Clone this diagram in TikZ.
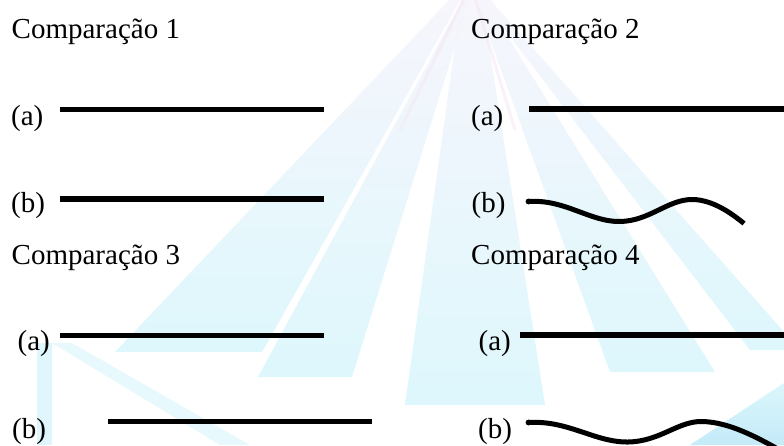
\documentclass[tikz,border=0pt]{standalone}
\usepackage{fontspec}
\setmainfont{Liberation Serif}
\definecolor{wmcyan}{RGB}{216,246,252}
\definecolor{wmblue}{RGB}{190,233,248}
\definecolor{wmlav}{RGB}{246,245,252}
\definecolor{wmpink}{RGB}{246,230,242}
\tikzset{
  lbl/.style={anchor=base west,inner sep=0pt,font=\fontsize{29}{34}\selectfont},
  bar/.style={line width=5.5pt,line cap=butt},
  wave/.style={line width=5pt,line cap=butt},
  beam/.style={top color=wmlav,bottom color=wmcyan,draw=none,opacity=0.85},
}
\begin{document}
\begin{tikzpicture}[x=1pt,y=-1pt]
\useasboundingbox (0,0) rectangle (784,445);
\clip (0,0) rectangle (784,445);
\fill[white] (0,0) rectangle (784,445);
% watermark
\shade[beam] (454,-5) -- (463,-5) -- (262,352) -- (115,352) -- cycle;
\shade[beam] (465,-5) -- (471,-5) -- (352,377) -- (258,377) -- cycle;
\shade[beam] (462,-5) -- (481,-5) -- (545,405) -- (405,405) -- cycle;
\shade[beam] (474,-5) -- (482,-5) -- (715,372) -- (610,372) -- cycle;
\shade[beam] (478,-5) -- (486,-5) -- (800,350) -- (750,350) -- cycle;
\draw[wmpink,line width=3pt,opacity=0.5] (466,-5) -- (400,130);
\draw[wmpink,line width=3pt,opacity=0.5] (474,-5) -- (515,130);
\fill[wmcyan,opacity=0.8] (37,343) rectangle (52,445);
\fill[wmcyan,opacity=0.6] (52,343) -- (72,343) -- (250,445) -- (220,445) -- cycle;
\shade[top color=wmcyan,bottom color=wmblue,opacity=0.9] (690,445) -- (784,383) -- (784,445) -- cycle;
% titles
\node[lbl] (t1) at (11.5,38) {Comparação 1};
\node[lbl] (t2) at (471,38) {Comparação 2};
\node[lbl] (t3) at (11.5,264) {Comparação 3};
\node[lbl] (t4) at (471,264) {Comparação 4};
% labels
\node[lbl] (a1) at (11,125) {(a)};
\node[lbl] (b1) at (11,212) {(b)};
\node[lbl] (a2) at (471,125) {(a)};
\node[lbl] (b2) at (471.5,212) {(b)};
\node[lbl] (a3) at (17.5,350) {(a)};
\node[lbl] (b3) at (12,438) {(b)};
\node[lbl] (a4) at (478.5,350) {(a)};
\node[lbl] (b4) at (478,438) {(b)};
% line endpoints
\coordinate (a1s) at (60,109.5);  \coordinate (a1e) at (324,109.5);
\coordinate (b1s) at (60,199);    \coordinate (b1e) at (324,199);
\coordinate (a2s) at (529,109.2); \coordinate (a2e) at (790,109.2);
\coordinate (a3s) at (60,335.5);  \coordinate (a3e) at (324,335.5);
\coordinate (b3s) at (108.3,421.5); \coordinate (b3e) at (372.3,421.5);
\coordinate (a4s) at (520,335);   \coordinate (a4e) at (790,335);
\coordinate (b2s) at (528.5,201.5);
\coordinate (b4s) at (528.5,422.5);
\draw[bar] (a1s) -- (a1e);
\draw[bar] (b1s) -- (b1e);
\draw[bar] (a2s) -- (a2e);
\draw[bar] (a3s) -- (a3e);
\draw[bar] (b3s) -- (b3e);
\draw[bar] (a4s) -- (a4e);
\draw[wave] (b2s) .. controls (565,199) and (590,222) .. (620,221.5)
  .. controls (650,221) and (668,199) .. (693,199.5)
  .. controls (712,200) and (730,212) .. (744,223.5);
\fill (b2s) circle (2.9);
\draw[wave] (b4s) .. controls (568,420) and (595,442.5) .. (628,442)
  .. controls (660,441.5) and (678,421) .. (702,421.5)
  .. controls (730,422) and (760,438) .. (800,462);
\fill (b4s) circle (2.9);
\end{tikzpicture}
\end{document}
